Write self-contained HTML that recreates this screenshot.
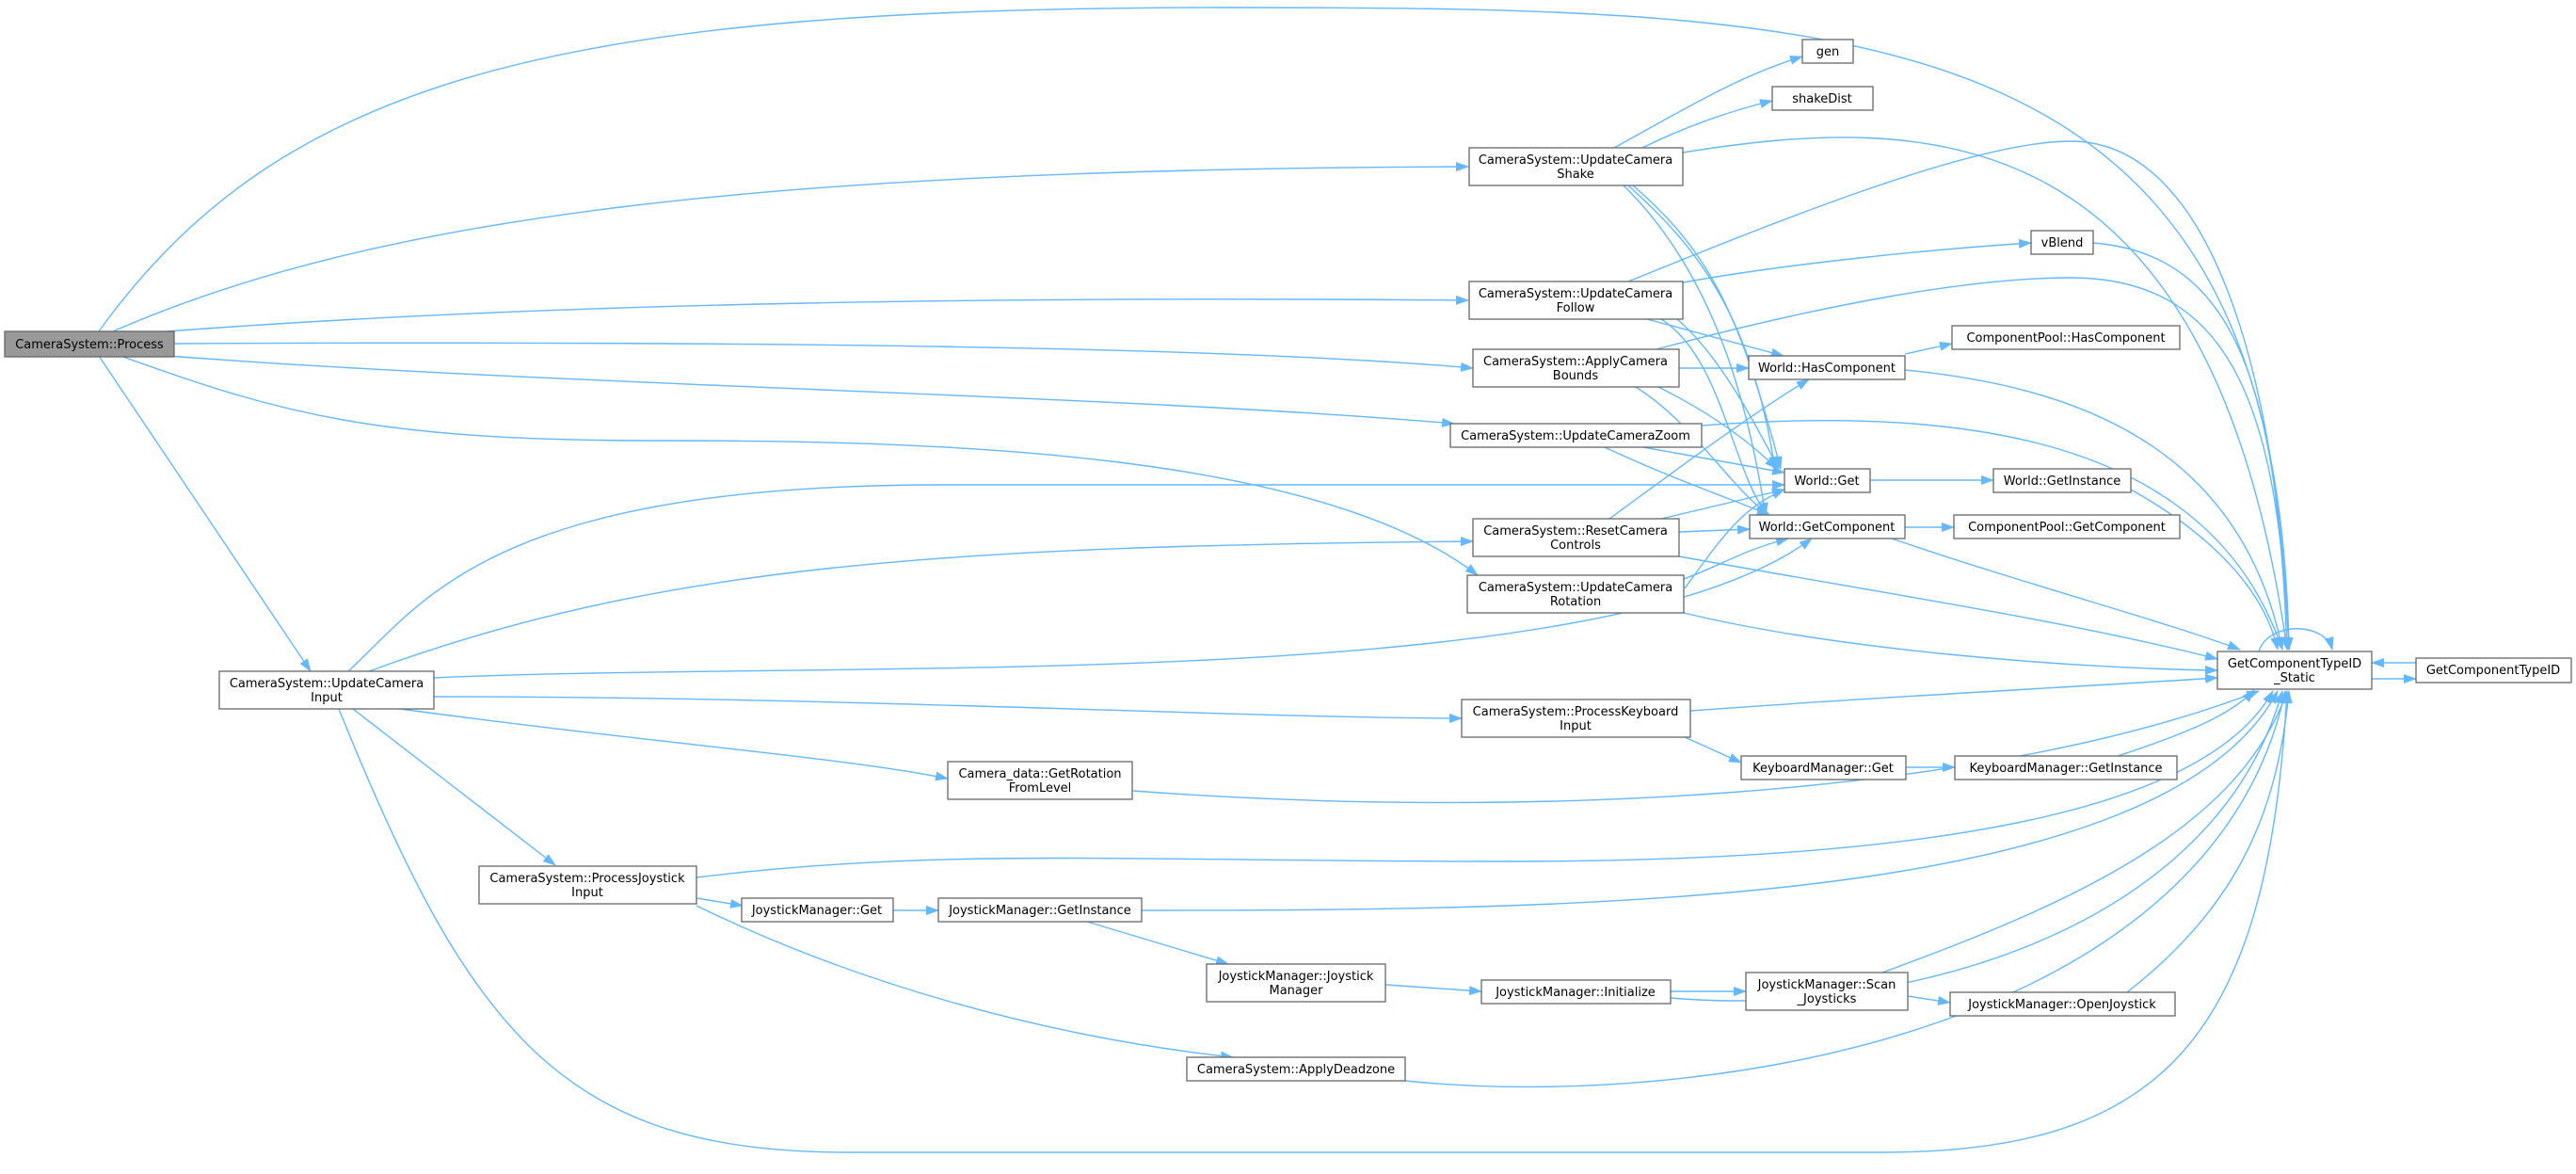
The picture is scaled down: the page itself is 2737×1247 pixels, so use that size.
<!DOCTYPE html>
<html><head><meta charset="utf-8"><style>
html,body{margin:0;padding:0;background:#fff;}
svg{display:block}
text{font-family:"DejaVu Sans","Liberation Sans",sans-serif;font-size:13px;fill:#000;text-anchor:middle}
.n{fill:#fff;stroke:#666;stroke-width:1.3}
.e{fill:none;stroke:#63b8ff;stroke-width:1.4}
</style></head><body>
<svg width="2737" height="1247" viewBox="0 0 2737 1247" xmlns="http://www.w3.org/2000/svg">
<defs><marker id="a" markerWidth="14" markerHeight="10" refX="13" refY="5" orient="auto" markerUnits="userSpaceOnUse"><path d="M0,0 L14,5 L0,10 z" fill="#63b8ff"/></marker></defs>
<g class="e" marker-end="url(#a)">
<path d="M105,352 C300,80 600,8 1300,8 C2000,8 2420,20 2432,690"/>
<path d="M120,352 C400,230 800,180 1560,177"/>
<path d="M178,352 C600,320 1100,315 1560,319"/>
<path d="M185,365 C800,362 1300,368 1565,391"/>
<path d="M178,378 C600,410 1200,420 1545,450"/>
<path d="M128,378 C300,440 400,468 700,468 C1000,468 1400,480 1570,611"/>
<path d="M105,378 L330,713"/>
<path d="M370,713 C450,640 520,515 1000,515 L1896,515"/>
<path d="M392,713 C700,600 1000,580 1565,575"/>
<path d="M461,720 C900,700 1700,740 1925,572"/>
<path d="M461,740 C900,740 1300,762 1553,763"/>
<path d="M425,753 C700,790 900,805 1007,827"/>
<path d="M375,753 L590,919"/>
<path d="M360,753 C500,1100 600,1224 900,1224 L2000,1224 C2300,1224 2410,1100 2430,734"/>
<path d="M1715,157 C1800,110 1850,80 1915,60"/>
<path d="M1745,157 C1800,130 1850,115 1883,107"/>
<path d="M1788,162 C2050,120 2350,120 2430,690"/>
<path d="M1730,197 C1800,260 1860,330 1886,498"/>
<path d="M1735,197 C1820,270 1850,340 1892,498"/>
<path d="M1725,197 C1830,300 1860,450 1876,547"/>
<path d="M1730,299 C1900,230 2100,150 2200,150 C2350,150 2420,400 2432,690"/>
<path d="M1788,300 C1900,280 2050,265 2158,258"/>
<path d="M1750,339 L1895,378"/>
<path d="M1782,339 C1830,380 1870,460 1890,498"/>
<path d="M1765,339 C1830,380 1840,500 1878,547"/>
<path d="M1760,371 C1950,320 2100,295 2200,295 C2380,295 2420,450 2432,690"/>
<path d="M1784,391 L1858,391"/>
<path d="M1762,411 C1820,440 1860,470 1888,498"/>
<path d="M1738,411 C1800,450 1840,520 1880,547"/>
<path d="M1808,452 C2100,430 2350,470 2425,690"/>
<path d="M1746,475 L1896,502"/>
<path d="M1705,475 C1780,510 1840,530 1880,547"/>
<path d="M1710,551 C1780,500 1860,440 1922,403"/>
<path d="M1765,551 L1896,520"/>
<path d="M1784,565 L1859,562"/>
<path d="M1784,591 C2000,630 2200,660 2356,700"/>
<path d="M1790,625 C1830,570 1850,540 1896,520"/>
<path d="M1789,615 C1830,600 1850,585 1900,572"/>
<path d="M1789,651 C1950,690 2200,710 2356,712"/>
<path d="M2024,376 L2074,365"/>
<path d="M2024,393 C2200,410 2380,470 2425,690"/>
<path d="M1987,510 L2118,510"/>
<path d="M2264,520 C2300,540 2400,600 2420,690"/>
<path d="M2024,560 L2076,560"/>
<path d="M2010,572 C2150,620 2300,660 2380,690"/>
<path d="M2224,258 C2380,270 2420,420 2430,690"/>
<path d="M2400,692 C2410,660 2470,660 2478,690"/>
<path d="M2567,704 L2520,704"/>
<path d="M2520,721 L2567,721"/>
<path d="M1796,755 C2000,740 2200,730 2356,720"/>
<path d="M1790,783 L1850,810"/>
<path d="M2025,815 L2077,815"/>
<path d="M2250,803 C2320,780 2370,760 2395,733"/>
<path d="M1204,840 C1600,870 2100,850 2400,734"/>
<path d="M740,932 C1000,900 1200,915 1600,915 C2100,915 2350,850 2415,734"/>
<path d="M740,954 L789,962"/>
<path d="M740,962 C900,1040 1100,1100 1310,1123"/>
<path d="M949,967 L997,967"/>
<path d="M1213,967 C1700,967 2300,960 2420,734"/>
<path d="M1155,979 L1305,1024"/>
<path d="M1472,1046 L1574,1053"/>
<path d="M1775,1053 L1855,1053"/>
<path d="M1775,1060 C2000,1080 2350,1000 2425,734"/>
<path d="M2027,1058 L2072,1065"/>
<path d="M2000,1033 C2200,960 2380,880 2430,734"/>
<path d="M2260,1054 C2380,960 2420,860 2432,734"/>
<path d="M1493,1148 C1800,1180 2350,1100 2428,734"/>
</g>
<rect x="5" y="352" width="180" height="27" fill="#999" stroke="#666" stroke-width="1.3"/><text x="95" y="370">CameraSystem::Process</text>
<rect class="n" x="233" y="713" width="228" height="40"/><text x="347" y="730">CameraSystem::UpdateCamera</text><text x="347" y="745">Input</text>
<rect class="n" x="1561" y="157" width="227" height="40"/><text x="1674" y="174">CameraSystem::UpdateCamera</text><text x="1674" y="189">Shake</text>
<rect class="n" x="1561" y="299" width="227" height="40"/><text x="1674" y="316">CameraSystem::UpdateCamera</text><text x="1674" y="331">Follow</text>
<rect class="n" x="1565" y="371" width="219" height="40"/><text x="1674" y="388">CameraSystem::ApplyCamera</text><text x="1674" y="403">Bounds</text>
<rect class="n" x="1541" y="450" width="267" height="25"/><text x="1674" y="467">CameraSystem::UpdateCameraZoom</text>
<rect class="n" x="1565" y="551" width="219" height="40"/><text x="1674" y="568">CameraSystem::ResetCamera</text><text x="1674" y="583">Controls</text>
<rect class="n" x="1559" y="611" width="230" height="40"/><text x="1674" y="628">CameraSystem::UpdateCamera</text><text x="1674" y="643">Rotation</text>
<rect class="n" x="1915" y="42" width="54" height="25"/><text x="1942" y="59">gen</text>
<rect class="n" x="1883" y="92" width="107" height="25"/><text x="1936" y="109">shakeDist</text>
<rect class="n" x="2158" y="245" width="66" height="25"/><text x="2191" y="262">vBlend</text>
<rect class="n" x="1858" y="378" width="166" height="25"/><text x="1941" y="395">World::HasComponent</text>
<rect class="n" x="1896" y="498" width="91" height="25"/><text x="1941" y="515">World::Get</text>
<rect class="n" x="1859" y="547" width="165" height="25"/><text x="1941" y="564">World::GetComponent</text>
<rect class="n" x="2074" y="346" width="242" height="25"/><text x="2195" y="363">ComponentPool::HasComponent</text>
<rect class="n" x="2118" y="498" width="146" height="25"/><text x="2191" y="515">World::GetInstance</text>
<rect class="n" x="2076" y="547" width="240" height="25"/><text x="2196" y="564">ComponentPool::GetComponent</text>
<rect class="n" x="2356" y="692" width="164" height="40"/><text x="2438" y="709">GetComponentTypeID</text><text x="2438" y="724">_Static</text>
<rect class="n" x="2567" y="699" width="165" height="26"/><text x="2649" y="716">GetComponentTypeID</text>
<rect class="n" x="1553" y="743" width="243" height="40"/><text x="1674" y="760">CameraSystem::ProcessKeyboard</text><text x="1674" y="775">Input</text>
<rect class="n" x="1850" y="803" width="175" height="25"/><text x="1937" y="820">KeyboardManager::Get</text>
<rect class="n" x="2077" y="803" width="236" height="25"/><text x="2195" y="820">KeyboardManager::GetInstance</text>
<rect class="n" x="1007" y="809" width="196" height="40"/><text x="1105" y="826">Camera_data::GetRotation</text><text x="1105" y="841">FromLevel</text>
<rect class="n" x="509" y="920" width="231" height="40"/><text x="624" y="937">CameraSystem::ProcessJoystick</text><text x="624" y="952">Input</text>
<rect class="n" x="788" y="954" width="161" height="25"/><text x="868" y="971">JoystickManager::Get</text>
<rect class="n" x="997" y="954" width="216" height="25"/><text x="1105" y="971">JoystickManager::GetInstance</text>
<rect class="n" x="1282" y="1024" width="190" height="40"/><text x="1377" y="1041">JoystickManager::Joystick</text><text x="1377" y="1056">Manager</text>
<rect class="n" x="1574" y="1041" width="201" height="25"/><text x="1674" y="1058">JoystickManager::Initialize</text>
<rect class="n" x="1855" y="1033" width="172" height="40"/><text x="1941" y="1050">JoystickManager::Scan</text><text x="1941" y="1065">_Joysticks</text>
<rect class="n" x="2072" y="1054" width="239" height="25"/><text x="2191" y="1071">JoystickManager::OpenJoystick</text>
<rect class="n" x="1261" y="1123" width="232" height="25"/><text x="1377" y="1140">CameraSystem::ApplyDeadzone</text>
</svg>
</body></html>
